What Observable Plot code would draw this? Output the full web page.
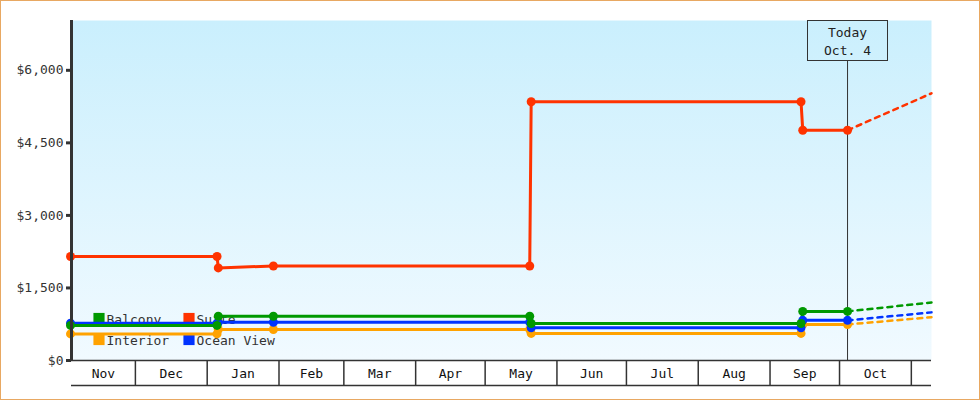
<!DOCTYPE html>
<html>
<head>
<meta charset="utf-8">
<script src="https://cdn.jsdelivr.net/npm/d3@7"></script>
<script src="https://cdn.jsdelivr.net/npm/@observablehq/plot@0.6"></script>
<style>
  html, body { margin: 0; padding: 0; background: #fff; }
  #chart svg { display: block; outline: 1px solid #e8a862; outline-offset: -1px; }
</style>
</head>
<body>
<div id="chart"></div>
<script>
// Cabin fare history (solid) and projection past today (dashed)
const dates = [
  "2012-11-03T00:00Z", "2013-01-05T06:00Z", "2013-01-05T19:00Z", "2013-01-29T14:00Z",
  "2013-05-20T06:00Z", "2013-05-20T21:00Z", "2013-09-14T09:00Z", "2013-09-15T03:00Z",
  "2013-10-04T11:00Z"
];
const seriesNames = ["Interior", "Ocean View", "Balcony", "Suite"];
const seriesColors = ["#ffa200", "#0033ff", "#009900", "#ff3300"];
const interior  = [550, 550, 640, 640, 640, 560, 560, 745, 745];
const oceanView = [770, 770, 790, 790, 790, 675, 675, 830, 830];
const balcony   = [725, 725, 915, 915, 915, 765, 765, 1015, 1015];
const suite     = [2150, 2150, 1915, 1955, 1955, 5350, 5350, 4760, 4760];
// projected price at the right edge of the chart
const projected = [895, 995, 1200, 5525];

const xStart = "2012-11-03T10:00Z";
const xEnd = "2013-11-09T17:00Z";
const today = "2013-10-04T11:00Z";
const todayLabel = ["Today", "Oct. 4"];
const yTicks = [0, 1500, 3000, 4500, 6000];
const yMax = 7030;
const monthLabels = ["Nov", "Dec", "Jan", "Feb", "Mar", "Apr", "May", "Jun", "Jul", "Aug", "Sep", "Oct"];
const legendOrder = ["Balcony", "Suite", "Interior", "Ocean View"];

const W = 980, H = 400;
const mTop = 20, mRight = 49, mBottom = 40, mLeft = 71;
const font = "DejaVu Sans Mono";
const ink = "#333";

const valuesByName = {"Interior": interior, "Ocean View": oceanView, "Balcony": balcony, "Suite": suite};
const rows = seriesNames.flatMap(name =>
  dates.map((d, i) => ({series: name, date: new Date(d), price: valuesByName[name][i]})));
const forecast = seriesNames.flatMap((name, k) => [
  {series: name, date: new Date(today), price: valuesByName[name][dates.length - 1]},
  {series: name, date: new Date(xEnd), price: projected[k]}
]);

const x0 = new Date(xStart), x1 = new Date(xEnd);
const monthStarts = d3.utcMonths(d3.utcMonth.floor(x0), x1);
const monthBands = monthLabels.map((label, i) => {
  const a = Math.max(+monthStarts[i], +x0);
  const b = Math.min(+d3.utcMonth.offset(monthStarts[i], 1), +x1);
  return {label, mid: new Date((a + b) / 2)};
});
const separators = d3.utcMonth.range(d3.utcMonth.ceil(x0), x1);

const colorOf = Object.fromEntries(seriesNames.map((n, i) => [n, seriesColors[i]]));
// legend: two columns, two rows, anchored near the bottom-left of the plot
const legendItems = legendOrder.map((name, i) => ({
  name, color: colorOf[name], col: i % 2, row: Math.floor(i / 2)
}));
const legendMarks = legendItems.flatMap(item => [
  Plot.dot([item], {frameAnchor: "bottom-left", symbol: "square", r: 6.3, fill: "color", stroke: null,
    dx: 27.5 + item.col * 90, dy: -42 + item.row * 21}),
  Plot.text([item], {frameAnchor: "bottom-left", text: "name", textAnchor: "start", lineAnchor: "middle",
    fill: ink, fontSize: 13, dx: 35 + item.col * 90, dy: -41 + item.row * 21})
]);

const plot = Plot.plot({
  width: W, height: H,
  marginTop: mTop, marginRight: mRight, marginBottom: mBottom, marginLeft: mLeft,
  style: {fontFamily: font, fontSize: "13px", background: "#fff", color: ink},
  x: {type: "utc", domain: [x0, x1]},
  y: {domain: [0, yMax]},
  color: {domain: seriesNames, range: seriesColors},
  marks: [
    Plot.frame({fill: "url(#cabinBg)", stroke: "none"}),
    ...legendMarks,
    Plot.ruleX([new Date(today)], {stroke: ink, strokeWidth: 1}),
    Plot.line(forecast, {x: "date", y: "price", z: "series", stroke: "series",
      strokeWidth: 2.5, strokeDasharray: "5,5"}),
    Plot.line(rows, {x: "date", y: "price", z: "series", stroke: "series", strokeWidth: 3}),
    Plot.dot(rows, {x: "date", y: "price", fill: "series", r: 4.5, stroke: null}),
    Plot.ruleY([0], {stroke: ink, strokeWidth: 1.5}),
    Plot.ruleY([0], {stroke: ink, strokeWidth: 1.5, dy: 25}),
    Plot.axisX({ticks: separators, tickSize: 25, tickFormat: () => "", label: null, color: ink, strokeWidth: 1.5}),
    Plot.text(monthBands, {x: "mid", frameAnchor: "bottom", lineAnchor: "middle", text: "label",
      dy: 13, fill: "#111", fontSize: 13}),
    Plot.ruleX([x0], {stroke: ink, strokeWidth: 3}),
    Plot.axisY({ticks: yTicks, tickSize: 5, tickPadding: 3, strokeWidth: 3, color: ink,
      tickFormat: d => "$" + d3.format(",")(d), label: null, fontSize: 13})
  ]
});

// shared background gradient for the plot area and the "today" box
const svg = d3.select(plot);
const grad = svg.insert("defs", ":first-child").append("linearGradient")
  .attr("id", "cabinBg").attr("gradientUnits", "userSpaceOnUse")
  .attr("x1", 0).attr("y1", mTop).attr("x2", 0).attr("y2", H - mBottom);
grad.append("stop").attr("offset", 0).attr("stop-color", "#caeffd");
grad.append("stop").attr("offset", 1).attr("stop-color", "#f1faff");

// "Today" label box above the marker line
const tx = Math.round(plot.scale("x").apply(new Date(today))) + 0.5;
const box = svg.append("g").attr("font-family", font).attr("font-size", 13).attr("fill", "#222");
box.append("rect").attr("x", tx - 40).attr("y", mTop + 0.5).attr("width", 80).attr("height", 40)
  .attr("fill", "url(#cabinBg)").attr("stroke", ink).attr("stroke-width", 1);
todayLabel.forEach((t, i) => {
  box.append("text").attr("x", tx).attr("y", mTop + 12 + i * 18).attr("dy", "0.35em")
    .attr("text-anchor", "middle").text(t);
});

document.getElementById("chart").appendChild(plot);
</script>
</body>
</html>
